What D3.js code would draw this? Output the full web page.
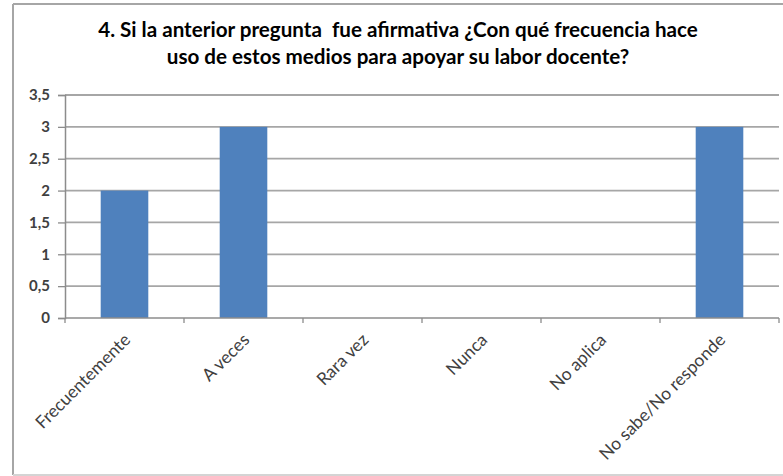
<!DOCTYPE html>
<html><head><meta charset="utf-8">
<script src="https://cdn.jsdelivr.net/npm/d3@7"></script>
<style>
html,body{margin:0;padding:0;background:#fff;}
svg text{font-family:Lato,"Open Sans",sans-serif;}
</style></head>
<body>
<svg id="c" width="783" height="476"></svg>
<script>
const titleLines = ["4. Si la anterior pregunta  fue afirmativa ¿Con qué frecuencia hace", "uso de estos medios para apoyar su labor docente?"];
const categories = ["Frecuentemente", "A veces", "Rara vez", "Nunca", "No aplica", "No sabe/No responde"];
const values = [2, 3, 0, 0, 0, 3];
const yTicks = [0, 0.5, 1, 1.5, 2, 2.5, 3, 3.5];

const svg = d3.select("#c");
// outer frame
svg.append("line").attr("x1", 13).attr("x2", 783).attr("y1", 4).attr("y2", 4).attr("stroke", "#a6a6a6").attr("stroke-width", 2);
svg.append("line").attr("x1", 13).attr("x2", 13).attr("y1", 4).attr("y2", 475).attr("stroke", "#a6a6a6").attr("stroke-width", 2);
svg.append("line").attr("x1", 13).attr("x2", 783).attr("y1", 475).attr("y2", 475).attr("stroke", "#d4d4d4").attr("stroke-width", 2);

const x = d3.scaleBand().domain(categories).range([65, 779]).padding(0);
const y = d3.scaleLinear().domain([0, 3.5]).range([318, 95]);

// title
const t = svg.append("g");
const tl = titleLines.map((s, i) => t.append("text").attr("x", 398).attr("y", 37 + i * 27)
  .attr("text-anchor", "middle").style("white-space", "pre")
  .attr("font-weight", "bold").attr("font-size", 16).attr("fill", "#000").text(s));
const w0 = tl[0].node().getComputedTextLength();
const tfs = 16 * 600 / w0;
tl.forEach(n => n.attr("font-size", Math.min(tfs, 21)));

// gridlines
svg.append("g").selectAll("line").data(yTicks.filter(d => d > 0)).join("line")
  .attr("x1", 65).attr("x2", 779).attr("y1", d => y(d)).attr("y2", d => y(d))
  .attr("stroke", "#a6a6a6").attr("stroke-width", 1.8);

// bars
const bw = x.bandwidth() * 0.4;
svg.append("g").selectAll("rect").data(categories).join("rect")
  .attr("x", (d) => x(d) + x.bandwidth() / 2 - bw / 2)
  .attr("width", bw)
  .attr("y", (d, i) => y(values[i]))
  .attr("height", (d, i) => y(0) - y(values[i]))
  .attr("fill", "#4f81bd");

// y axis
const ya = svg.append("g").attr("transform", "translate(65,0)")
  .call(d3.axisLeft(y).tickValues(yTicks).tickSize(7).tickPadding(8)
    .tickFormat(d => String(d).replace(".", ",")));
ya.select(".domain").attr("stroke", "#8c8c8c").attr("stroke-width", 1.5);
ya.selectAll(".tick line").attr("stroke", "#8c8c8c").attr("stroke-width", 1.3);
ya.selectAll("text").attr("font-size", 15).attr("fill", "#404040")
  .style("font-family", "Lato, sans-serif").style("font-weight", "bold");

// x axis
const xa = svg.append("g").attr("transform", "translate(0,318)");
xa.append("line").attr("x1", 65).attr("x2", 779).attr("stroke", "#8c8c8c").attr("stroke-width", 1.5);
const bounds = categories.map(c => x(c)).concat([x.range()[1]]);
xa.selectAll("line.tk").data(bounds).join("line").attr("class", "tk")
  .attr("x1", d => d).attr("x2", d => d).attr("y1", 0).attr("y2", 5)
  .attr("stroke", "#8c8c8c").attr("stroke-width", 1.3);
xa.selectAll("text").data(categories).join("text")
  .attr("transform", d => `translate(${x(d) + x.bandwidth() / 2 + 7},${23}) rotate(-45)`)
  .attr("text-anchor", "end").attr("font-size", 17.5).attr("fill", "#404040")
  .text(d => d);
</script>
</body></html>
